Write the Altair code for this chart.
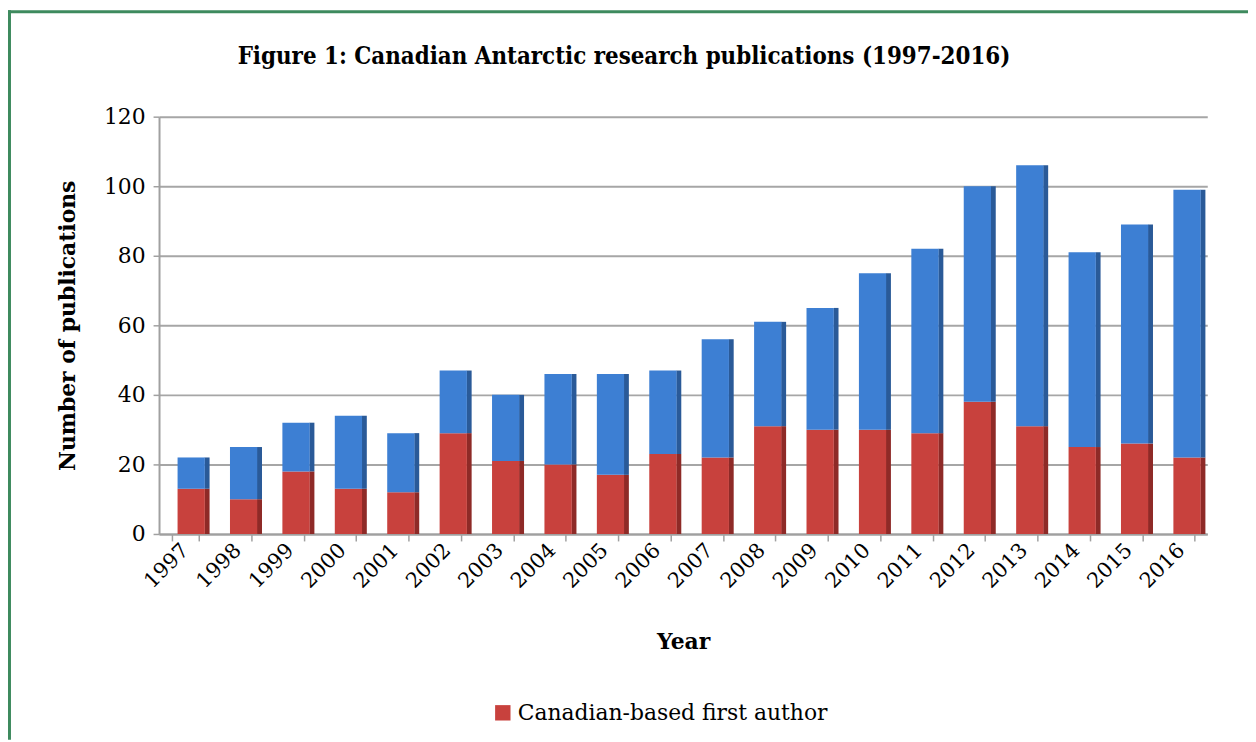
import altair as alt
import pandas as pd

years = [str(y) for y in range(1997, 2017)]
canadian = [13, 10, 18, 13, 12, 29, 21, 20, 17, 23, 22, 31, 30, 30, 29, 38, 31, 25, 26, 22]
totals = [22, 25, 32, 34, 29, 47, 40, 46, 46, 47, 56, 61, 65, 75, 82, 100, 106, 81, 89, 99]

S_CAN = "Canadian-based first author"
S_OTH = "Other first author"
TITLE = "Figure 1: Canadian Antarctic research publications (1997-2016)"

rows = []
for y, c, t in zip(years, canadian, totals):
    rows.append({"Year": y, "Series": S_CAN, "Count": c, "ord": 0})
    rows.append({"Year": y, "Series": S_OTH, "Count": t - c, "ord": 1})
df = pd.DataFrame(rows)

W, H = 1055, 420
RIGHT = 41
FONT = "DejaVu Serif"

x_enc = alt.X("Year:N", sort=years,
              scale=alt.Scale(paddingInner=0.48, paddingOuter=0.24),
              axis=alt.Axis(title="Year", labelAngle=-45, labelAlign="right", labelBaseline="middle",
                            labelFont=FONT, labelFontSize=21, labelColor="#000",
                            labelPadding=6, titleFont=FONT, titleFontSize=22, titleFontWeight="bold",
                            titlePadding=40, titleColor="#000", domainColor="#a0a0a0", domainWidth=2,
                            tickColor="#a0a0a0", tickSize=7, tickWidth=1.5, tickBand="extent"))
y_enc = alt.Y("Count:Q", stack="zero",
              scale=alt.Scale(domain=[0, 120], nice=False),
              axis=alt.Axis(title="Number of publications", values=list(range(0, 121, 20)),
                            labelFont=FONT, labelFontSize=22, labelColor="#000", labelPadding=8,
                            titleFont=FONT, titleFontSize=22, titleFontWeight="bold", titleColor="#000",
                            titlePadding=24, gridColor="#a6a6a6", gridWidth=2,
                            domainColor="#a0a0a0", domainWidth=2, tickColor="#a0a0a0", tickSize=6,
                            tickWidth=1.5))

bars = alt.Chart(df).mark_bar(xOffset=6).encode(
    x=x_enc,
    y=y_enc,
    color=alt.Color("Series:N", scale=alt.Scale(domain=[S_CAN, S_OTH], range=["#c8413d", "#3d7fd3"]),
                    legend=alt.Legend(title=None, values=[S_CAN], orient="none",
                                      legendX=335, legendY=589, symbolType="square", symbolSize=240,
                                      labelFont=FONT, labelFontSize=22, labelColor="#000",
                                      labelLimit=0, symbolStrokeWidth=0)),
    order=alt.Order("ord:Q"),
)

side = alt.Chart(df).mark_bar(xOffset=22, width=5).encode(
    x=alt.X("Year:N", sort=years),
    y=alt.Y("Count:Q", stack="zero"),
    color=alt.Color("Series:N", scale=alt.Scale(domain=[S_CAN, S_OTH], range=["#8e2a27", "#2a5a98"]),
                    legend=None),
    order=alt.Order("ord:Q"),
)

title = alt.Chart(pd.DataFrame({"t": [TITLE]})).mark_text(
    font="DejaVu Serif Condensed", fontSize=24, fontWeight="bold", color="#000", align="center", baseline="middle"
).encode(x=alt.value(468), y=alt.value(-60), text="t:N")

one = pd.DataFrame({"k": [0]})
frame_top = alt.Chart(one).mark_rule(color="#3e8a5e", strokeWidth=3, clip=False).encode(
    x=alt.value(-152), x2=alt.value(W + RIGHT), y=alt.value(-105.5)
)
frame_left = alt.Chart(one).mark_rule(color="#3e8a5e", strokeWidth=3, clip=False).encode(
    x=alt.value(-150.5), y=alt.value(-107), y2=alt.value(H + 207)
)

chart = alt.layer(frame_top, frame_left, side, bars, title).resolve_scale(color="independent").properties(
    width=W, height=H,
    padding={"left": 152, "top": 107, "right": RIGHT, "bottom": 207},
    autosize=alt.AutoSizeParams(type="none"),
    background="white",
).configure_view(stroke=None)

chart.save("out.html", embed_options={"renderer": "svg", "actions": False})
